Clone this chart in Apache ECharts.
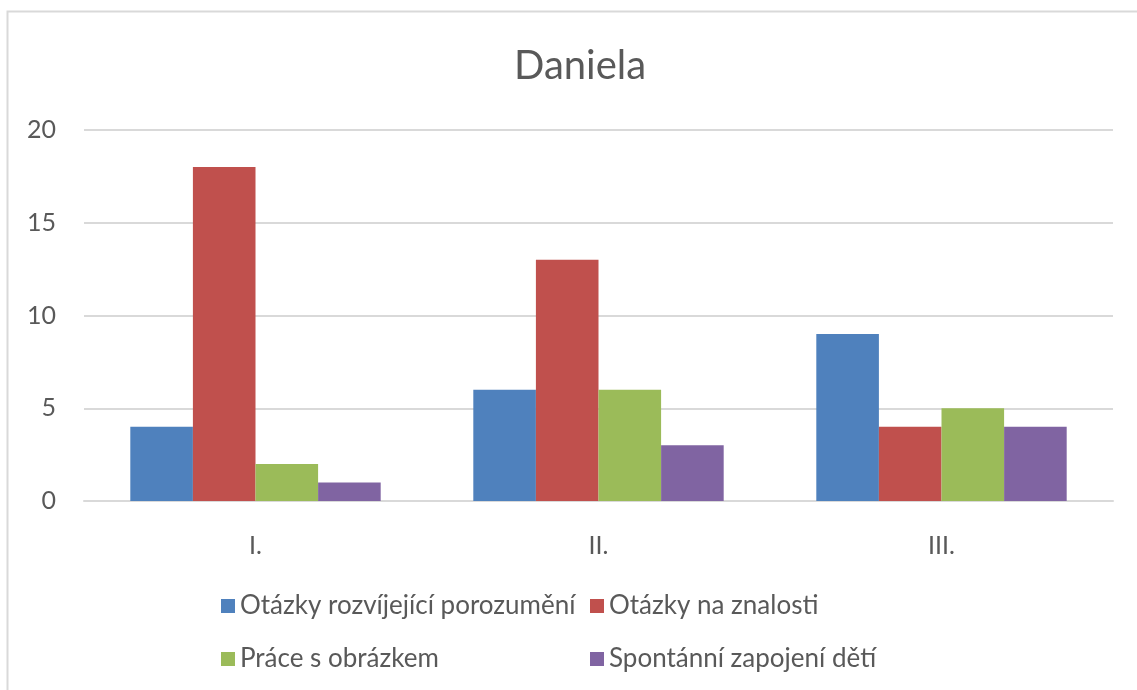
<!DOCTYPE html>
<html>
<head>
<meta charset="utf-8">
<script src="https://cdn.jsdelivr.net/npm/echarts@6/dist/echarts.min.js"></script>
<style>
html,body{margin:0;padding:0;background:#fff;}
#chart{width:1137px;height:690px;}
</style>
</head>
<body>
<div id="chart"></div>
<script>
const titleText = "Daniela";
const categories = ["I.", "II.", "III."];
const seriesNames = ["Otázky rozvíjející porozumění", "Otázky na znalosti", "Práce s obrázkem", "Spontánní zapojení dětí"];
const rozvijejici = [4, 6, 9];
const znalosti = [18, 13, 4];
const obrazek = [2, 6, 5];
const spontanni = [1, 3, 4];
const colors = ["#4F81BD", "#C0504D", "#9BBB59", "#8064A2"];
const yTicks = [0, 5, 10, 15, 20];

const values = [rozvijejici, znalosti, obrazek, spontanni];
const font = "Lato, 'Open Sans', sans-serif";
const textColor = "#595959";

const chart = echarts.init(document.getElementById('chart'), null, {renderer: 'canvas'});
chart.setOption({
  animation: false,
  backgroundColor: '#fff',
  graphic: [{
    type: 'rect',
    shape: {x: 7.5, y: 11.5, width: 1300, height: 900},
    style: {fill: 'none', stroke: '#d9d9d9', lineWidth: 2},
    silent: true
  }],
  title: {
    text: titleText,
    left: 509,
    top: 41,
    textStyle: {fontFamily: font, fontSize: 40, fontWeight: 'normal', color: textColor}
  },
  legend: [{
    orient: 'vertical',
    left: 216,
    top: 588,
    itemWidth: 14, itemHeight: 14, itemGap: 27,
    icon: 'rect',
    data: [seriesNames[0], seriesNames[2]],
    textStyle: {fontFamily: font, fontSize: 26, color: textColor}
  }, {
    orient: 'vertical',
    left: 585,
    top: 588,
    itemWidth: 14, itemHeight: 14, itemGap: 27,
    icon: 'rect',
    data: [seriesNames[1], seriesNames[3]],
    textStyle: {fontFamily: font, fontSize: 26, color: textColor}
  }],
  grid: {left: 84, right: 24, top: 130, bottom: 189, containLabel: false},
  xAxis: {
    type: 'category',
    data: categories,
    axisLine: {show: true, lineStyle: {color: '#d9d9d9', width: 2}},
    axisTick: {show: false},
    axisLabel: {fontFamily: font, fontSize: 25, color: textColor, margin: 32}
  },
  yAxis: {
    type: 'value',
    min: yTicks[0],
    max: yTicks[yTicks.length - 1],
    interval: 5,
    axisLine: {show: false},
    axisTick: {show: false},
    splitLine: {lineStyle: {color: '#d9d9d9', width: 2}},
    axisLabel: {fontFamily: font, fontSize: 25, color: textColor, margin: 28}
  },
  series: seriesNames.map((name, i) => ({
    name: name,
    type: 'bar',
    data: values[i],
    itemStyle: {color: colors[i]},
    barGap: '0%',
    barCategoryGap: '27%'
  }))
});
</script>
</body>
</html>
